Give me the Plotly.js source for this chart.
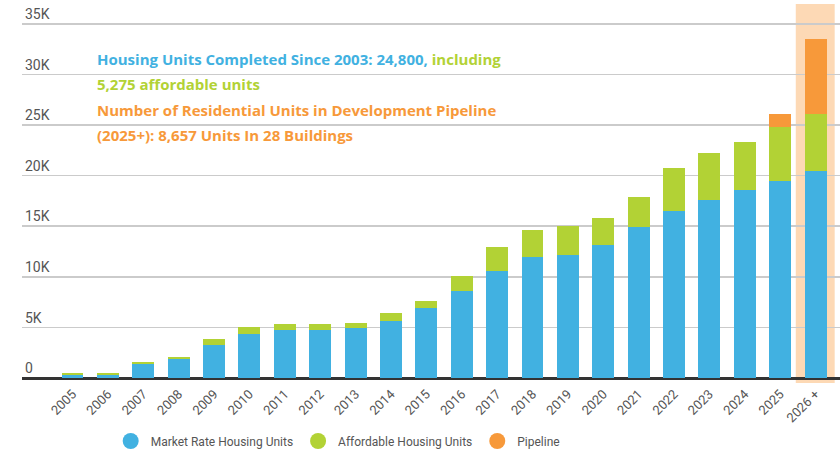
<!DOCTYPE html>
<html>
<head>
<meta charset="utf-8">
<script src="https://cdn.plot.ly/plotly-3.0.1.min.js"></script>
<style>html,body{margin:0;padding:0;background:#fff;}#chart{width:840px;height:456px;}</style>
</head>
<body>
<div id="chart"></div>
<script>
const years = ['2005','2006','2007','2008','2009','2010','2011','2012','2013','2014','2015','2016','2017','2018','2019','2020','2021','2022','2023','2024','2025','2026 +'];
const marketRate = [300,300,1350,1880,3300,4350,4740,4740,4900,5660,6900,8600,10600,12000,12200,13100,14950,16500,17550,18600,19500,20450];
const affordable = [230,200,250,170,550,690,600,600,570,740,740,1480,2300,2600,2800,2700,2900,4300,4650,4700,5350,5600];
const pipeline = [0,0,0,0,0,0,0,0,0,0,0,0,0,0,0,0,0,0,0,0,1250,7450];
const yTickVals = [0,5000,10000,15000,20000,25000,30000,35000];
const yTickText = ['0','5K','10K','15K','20K','25K','30K','35K'];
const seriesNames = ['Market Rate Housing Units','Affordable Housing Units','Pipeline'];
const colors = ['#41b1e1','#b2d235','#f7993a'];
const narrow = 'Roboto, sans-serif';
const bold = '"Open Sans", sans-serif';

const bars = [marketRate, affordable, pipeline].map((v,i)=>({
  type:'bar', x:years, y:v, name:seriesNames[i], marker:{color:colors[i]},
  showlegend:false, hoverinfo:'skip'
}));
const legendItems = seriesNames.map((n,i)=>({
  type:'scatter', mode:'markers', x:[null], y:[null], name:n,
  marker:{color:colors[i], size:16, symbol:'circle'}
}));

const layout = {
  width:840, height:456,
  margin:{l:22, r:0, t:4, b:73},
  paper_bgcolor:'#fff', plot_bgcolor:'#fff',
  barmode:'stack', bargap:0.38,
  font:{family:narrow, color:'#555'},
  xaxis:{type:'category', range:[-1.427,21.69], showgrid:false, zeroline:false,
    tickangle:-45, tickfont:{size:13, color:'#555', family:narrow}, ticks:'', showline:false, fixedrange:true},
  yaxis:{range:[-490,36960], tickvals:yTickVals, ticktext:yTickText,
    ticklabelposition:'inside top', tickfont:{size:14, color:'#555', family:narrow},
    showgrid:true, gridcolor:'#cbcbcb', gridwidth:1.6,
    zeroline:true, zerolinecolor:'#333', zerolinewidth:3, showline:false, ticks:''},
  shapes:[{type:'rect', xref:'x', yref:'paper', x0:20.44, x1:21.54, y0:0, y1:1,
    fillcolor:'#fdd9b5', line:{width:0}, layer:'below'}],
  legend:{orientation:'h', traceorder:'normal', x:0.1084, xanchor:'left', y:-0.153, yanchor:'middle',
    font:{size:12, color:'#555', family:narrow}, itemclick:false},
  annotations:[
    {xref:'paper', yref:'paper', x:0.0892, y:0.855, xanchor:'left', yanchor:'middle', showarrow:false,
     text:'<b><span style="color:#41b1e1">Housing Units Completed Since 2003: 24,800,</span> <span style="color:#b2d235">including</span></b>',
     font:{size:15, family:bold}},
    {xref:'paper', yref:'paper', x:0.0892, y:0.789, xanchor:'left', yanchor:'middle', showarrow:false,
     text:'<b>5,275 affordable units</b>', font:{size:15, color:'#b2d235', family:bold}},
    {xref:'paper', yref:'paper', x:0.0892, y:0.720, xanchor:'left', yanchor:'middle', showarrow:false,
     text:'<b>Number of Residential Units in Development Pipeline</b>', font:{size:15, color:'#f7993a', family:bold}},
    {xref:'paper', yref:'paper', x:0.0892, y:0.654, xanchor:'left', yanchor:'middle', showarrow:false,
     text:'<b>(2025+): 8,657 Units In 28 Buildings</b>', font:{size:15, color:'#f7993a', family:bold}}
  ]
};
Plotly.newPlot('chart', bars.concat(legendItems), layout, {displayModeBar:false, staticPlot:true});
</script>
</body>
</html>
